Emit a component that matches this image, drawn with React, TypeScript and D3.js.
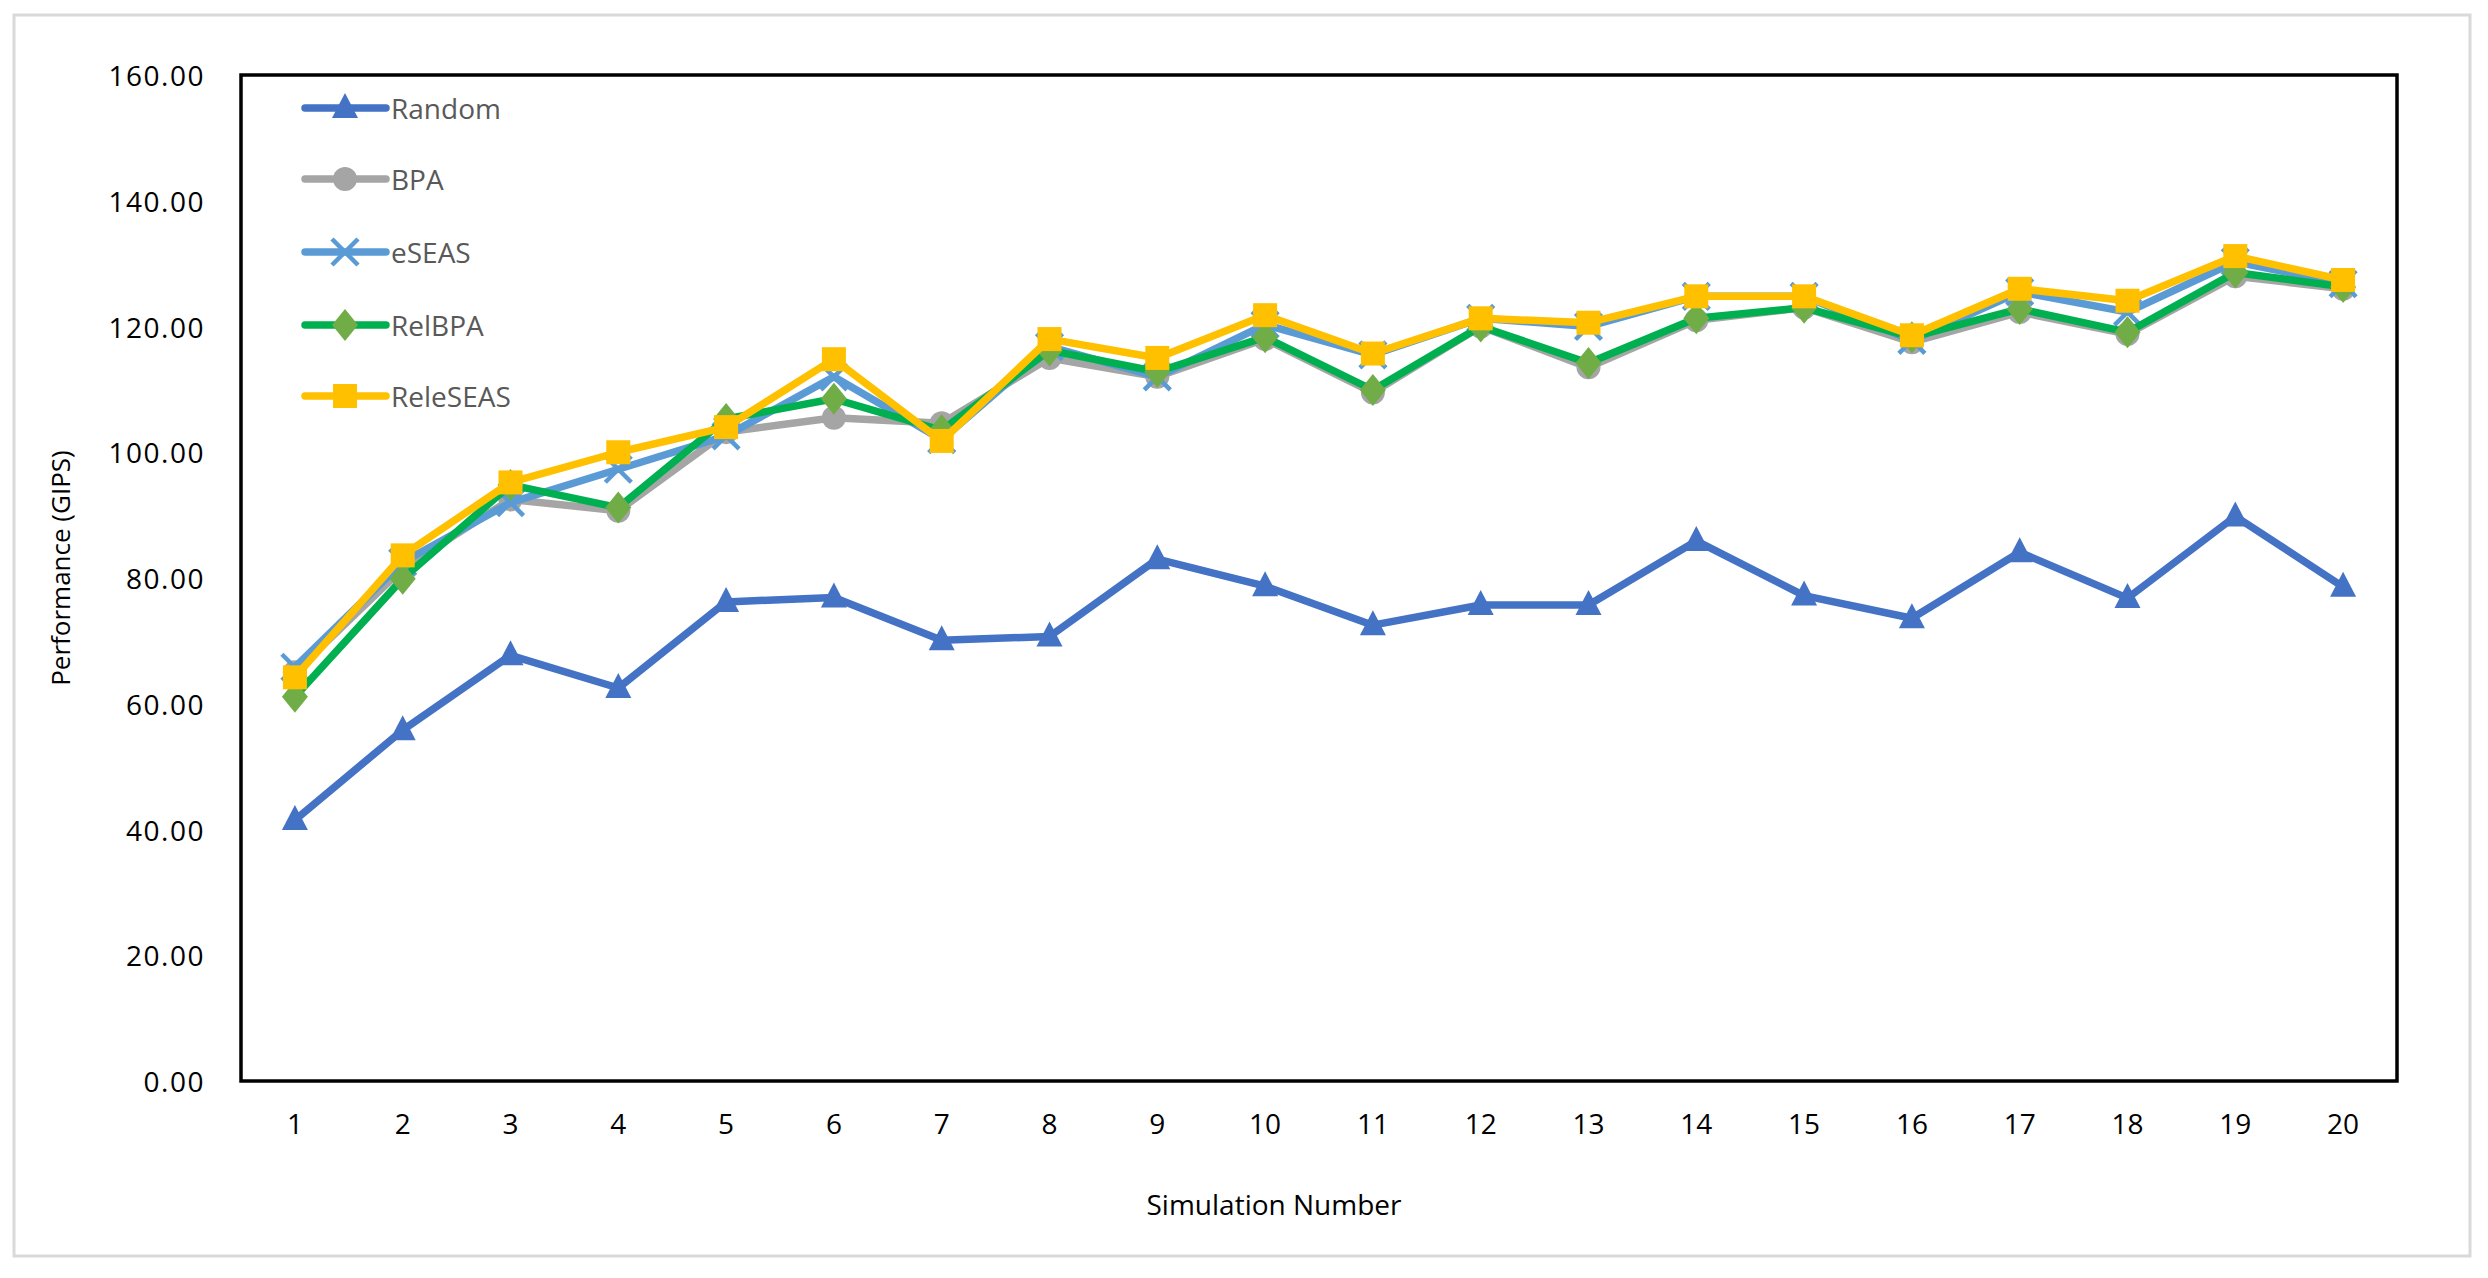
import React, { useEffect, useRef } from "react";
import * as d3 from "d3";

const categories = ["1","2","3","4","5","6","7","8","9","10","11","12","13","14","15","16","17","18","19","20"];
const yTicks = [0, 20, 40, 60, 80, 100, 120, 140, 160];

const randomVals = [41.5, 55.8, 67.7, 62.5, 76.2, 76.9, 70.1, 70.7, 83.0, 78.7, 72.5, 75.7, 75.7, 85.9, 77.2, 73.6, 84.1, 76.8, 89.8, 78.6];
const bpaVals = [65.0, 81.5, 92.5, 90.7, 103.2, 105.5, 104.6, 115.0, 112.0, 118.0, 109.5, 120.0, 113.5, 121.0, 123.0, 117.5, 122.3, 118.8, 128.0, 126.0];
const eseasVals = [65.8, 82.5, 92.0, 97.3, 102.6, 112.0, 102.0, 116.8, 112.0, 120.3, 115.5, 121.3, 120.0, 124.8, 124.8, 117.8, 125.5, 122.3, 130.3, 126.8];
const relbpaVals = [61.1, 79.9, 94.8, 91.2, 105.3, 108.5, 103.5, 116.2, 112.8, 118.3, 109.9, 120.0, 114.2, 121.3, 123.0, 118.3, 122.8, 119.1, 128.6, 126.3];
const releseasVals = [64.2, 83.6, 95.2, 100.0, 104.0, 114.8, 101.8, 118.0, 115.0, 121.8, 115.7, 121.3, 120.6, 124.8, 124.8, 118.6, 126.0, 124.1, 131.2, 127.4];

const seriesNames = ["Random", "BPA", "eSEAS", "RelBPA", "ReleSEAS"];
const seriesValues = [randomVals, bpaVals, eseasVals, relbpaVals, releseasVals];
const lineColors = ["#4472c4", "#a5a5a5", "#5b9bd5", "#00b050", "#ffc000"];
const markerColors = ["#4472c4", "#a5a5a5", "#5b9bd5", "#70ad47", "#ffc000"];
const markerTypes = ["triangle", "circle", "x", "diamond", "square"];

const W = 2488, H = 1278;
const M = { left: 241, right: 2397, top: 75, bottom: 1081 };
const FONT = "'Open Sans', 'Noto Sans', sans-serif";

function drawMarker(g: any, type: string, x: number, y: number, color: string) {
  if (type === "triangle") {
    g.append("path").attr("d", `M${x},${y - 15} L${x + 13},${y + 10} L${x - 13},${y + 10} Z`).attr("fill", color);
  } else if (type === "circle") {
    g.append("circle").attr("cx", x).attr("cy", y).attr("r", 12).attr("fill", color);
  } else if (type === "x") {
    const s = 13;
    g.append("path").attr("d", `M${x - s},${y - s} L${x + s},${y + s} M${x - s},${y + s} L${x + s},${y - s}`)
      .attr("stroke", color).attr("stroke-width", 4.5).attr("fill", "none");
  } else if (type === "diamond") {
    g.append("path").attr("d", `M${x},${y - 16} L${x + 13},${y} L${x},${y + 16} L${x - 13},${y} Z`).attr("fill", color);
  } else if (type === "square") {
    g.append("rect").attr("x", x - 12).attr("y", y - 12).attr("width", 24).attr("height", 24).attr("fill", color);
  }
}

export default function App() {
  const ref = useRef<SVGSVGElement>(null);
  useEffect(() => {
    const svg = d3.select(ref.current);
    svg.selectAll("*").remove();

    svg.append("rect").attr("x", 0).attr("y", 0).attr("width", W).attr("height", H).attr("fill", "#fff");
    svg.append("rect").attr("x", 14).attr("y", 15).attr("width", 2456).attr("height", 1241)
      .attr("fill", "none").attr("stroke", "#d9d9d9").attr("stroke-width", 3);

    const x = d3.scaleBand().domain(categories).range([M.left, M.right]);
    const y = d3.scaleLinear().domain([0, 160]).range([M.bottom, M.top]);
    const cx = (c: string) => (x(c) as number) + x.bandwidth() / 2;

    // y tick labels
    svg.append("g").selectAll("text").data(yTicks).enter().append("text")
      .attr("x", 205).attr("y", (d: number) => y(d)).attr("text-anchor", "end")
      .attr("dominant-baseline", "central").attr("font-family", FONT).attr("font-size", 28)
      .attr("letter-spacing", 1.5).attr("fill", "#000").text((d: number) => d.toFixed(2));

    // x tick labels
    svg.append("g").selectAll("text").data(categories).enter().append("text")
      .attr("x", (d: string) => cx(d)).attr("y", 1123).attr("text-anchor", "middle")
      .attr("dominant-baseline", "central").attr("font-family", FONT).attr("font-size", 28)
      .attr("fill", "#000").text((d: string) => d);

    // axis titles
    svg.append("text").attr("x", 1274).attr("y", 1204).attr("text-anchor", "middle")
      .attr("dominant-baseline", "central").attr("font-family", FONT).attr("font-size", 28)
      .attr("fill", "#000").text("Simulation Number");
    svg.append("text").attr("transform", `translate(60,568) rotate(-90)`).attr("text-anchor", "middle")
      .attr("dominant-baseline", "central").attr("font-family", FONT).attr("font-size", 26)
      .attr("fill", "#000").text("Performance (GIPS)");

    // series
    const line = d3.line<number>().x((_d: number, i: number) => cx(categories[i])).y((d: number) => y(d));
    seriesValues.forEach((vals, si) => {
      const g = svg.append("g");
      g.append("path").attr("d", line(vals) as string).attr("fill", "none")
        .attr("stroke", lineColors[si]).attr("stroke-width", 7.5)
        .attr("stroke-linejoin", "round").attr("stroke-linecap", "round");
      vals.forEach((v, i) => drawMarker(g, markerTypes[si], cx(categories[i]), y(v), markerColors[si]));
    });

    // plot frame
    svg.append("rect").attr("x", M.left).attr("y", M.top).attr("width", M.right - M.left)
      .attr("height", M.bottom - M.top).attr("fill", "none").attr("stroke", "#000").attr("stroke-width", 3.5);

    // legend
    const legendY = [108, 179, 252, 325, 396];
    seriesNames.forEach((name, si) => {
      const g = svg.append("g");
      const ly = legendY[si];
      g.append("line").attr("x1", 305).attr("x2", 386).attr("y1", ly).attr("y2", ly)
        .attr("stroke", lineColors[si]).attr("stroke-width", 7.5).attr("stroke-linecap", "round");
      drawMarker(g, markerTypes[si], 345, ly, markerColors[si]);
      g.append("text").attr("x", 391).attr("y", ly).attr("dominant-baseline", "central")
        .attr("font-family", FONT).attr("font-size", 28).attr("fill", "#595959").text(name);
    });
  }, []);

  return (
    <svg ref={ref} width={W} height={H} style={{ position: "absolute", left: 0, top: 0, display: "block" }} />
  );
}
